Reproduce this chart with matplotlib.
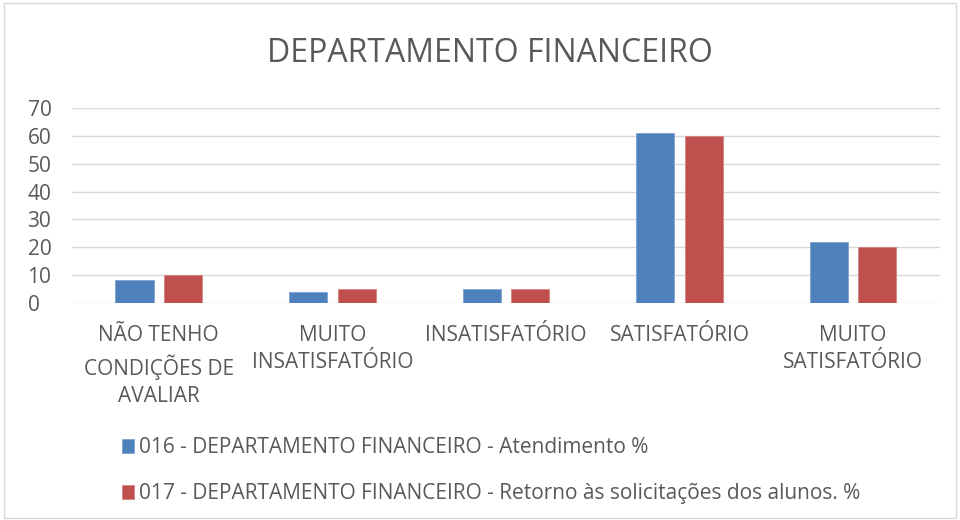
import numpy as np
import matplotlib
matplotlib.use("Agg")
import matplotlib.pyplot as plt
from matplotlib.patches import Rectangle

categories = ["NÃO TENHO\nCONDIÇÕES DE\nAVALIAR", "MUITO\nINSATISFATÓRIO",
              "INSATISFATÓRIO", "SATISFATÓRIO", "MUITO\nSATISFATÓRIO"]
atendimento = [8, 4, 5, 61, 22]
retorno = [10, 5, 5, 60, 20]
series_names = ["016 - DEPARTAMENTO FINANCEIRO - Atendimento %",
                "017 - DEPARTAMENTO FINANCEIRO - Retorno às solicitações dos alunos. %"]
yticks = [0, 10, 20, 30, 40, 50, 60, 70]

plt.rcParams["font.family"] = ["Open Sans", "DejaVu Sans"]
text_col = "#595959"
blue = "#4F81BD"
red = "#C0504D"

fig = plt.figure(figsize=(9.6, 5.2), dpi=100)
fig.patches.append(Rectangle((0.004, 0.004), 0.992, 0.99, transform=fig.transFigure,
                             fill=False, edgecolor="#D9D9D9", linewidth=1))
ax = fig.add_axes([0.075, 0.418, 0.904, 0.374])

x = np.arange(len(categories))
w = 0.22
b1 = ax.bar(x - 0.14, atendimento, w, color=blue, edgecolor="#7FA2D0", linewidth=0.6,
            label=series_names[0], zorder=3)
b2 = ax.bar(x + 0.14, retorno, w, color=red, edgecolor="#D48482", linewidth=0.6,
            label=series_names[1], zorder=3)

ax.set_xlim(-0.5, len(categories) - 0.5)
ax.set_ylim(0, 70)
ax.set_yticks(yticks)
ax.grid(axis="y", color="#D9D9D9", linewidth=1, zorder=0)
for s in ax.spines.values():
    s.set_visible(False)
ax.tick_params(axis="both", length=0, colors=text_col, labelsize=15)
ax.tick_params(axis="y", pad=32)
ax.set_yticklabels([str(v) for v in yticks], ha="left")
ax.set_xticks(x)
ax.set_xticklabels(categories, linespacing=1.4)
ax.tick_params(axis="x", pad=16)

fig.text(0.51, 0.897, "DEPARTAMENTO FINANCEIRO", ha="center", va="center",
         fontsize=23, color=text_col)

leg = fig.legend(handles=[b1, b2], loc="lower left", bbox_to_anchor=(0.118, 0.014),
                 bbox_transform=fig.transFigure, frameon=False, fontsize=15,
                 handlelength=0.6, handleheight=0.6, handletextpad=0.25,
                 labelspacing=1.2, borderaxespad=0)
for t in leg.get_texts():
    t.set_color(text_col)

fig.savefig("out.png", dpi=100)
